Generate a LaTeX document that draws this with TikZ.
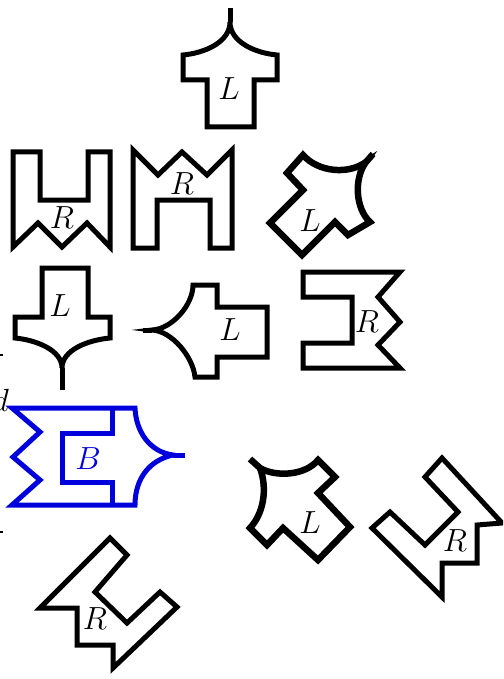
\RequirePackage{fix-cm}
\documentclass[tikz,border=0pt]{standalone}
\definecolor{pieceblue}{RGB}{0,0,220}
\tikzset{
  piece/.style={line width=5pt},
  heavypiece/.style={line width=6.5pt},
  lbl/.style={font=\fontsize{32}{38}\selectfont, inner sep=0pt}
}
\begin{document}
\begin{tikzpicture}[x=1pt, y=-1pt]
    \useasboundingbox (0,0) rectangle (503,679);
    \clip (0,0) rectangle (503,679);

    % cut-off marks on the left edge
    \draw[line width=1.5pt] (-10,355) -- (3,355);
    \draw[line width=1.5pt] (-10,532) -- (3,532);
    \node[lbl, anchor=base east] (dmark) at (9,411) {$d$};

    % top piece
    \draw[piece] (183,55) -- (183,80) -- (207,80) -- (207,127) -- (254,127) -- (254,80)
        -- (277,80) -- (277,55) .. controls (255,53) and (230,42) .. (230,22)
        .. controls (230,42) and (205,53) .. (183,55) -- cycle;
    \draw[piece] (230,22) -- (230,8);
    \node[lbl] (top) at (229,89) {$L$};

    % second row
    \draw[piece] (13,152) -- (40,152) -- (40,200) -- (88,200) -- (88,152) -- (110,152)
        -- (110,247) -- (87,223) -- (62,247) -- (38,223) -- (13,247) -- cycle;
    \node[lbl] (wpiece) at (62,218) {$R$};

    \draw[piece] (133,150) -- (158,175) -- (182,152) -- (207,175) -- (232,150) -- (232,248)
        -- (210,248) -- (210,200) -- (157,200) -- (157,248) -- (133,248) -- cycle;
    \node[lbl] (mpiece) at (182,184) {$R$};

    \draw[heavypiece] (303,155) -- (287,173) -- (303,190) -- (270,223) -- (302,255)
        -- (335,222) -- (348,235) -- (370,222) .. controls (355,208) and (354,178) .. (366,162)
        .. controls (348,175) and (318,172) .. (303,155) -- cycle;
    \draw[heavypiece] (366,162) -- (373,154);
    \node[lbl] (tilted) at (310,221) {$L$};

    % third row
    \draw[piece] (42,268) -- (88,268) -- (88,317) -- (110,317) -- (110,338)
        .. controls (88,340) and (62,350) .. (62,368)
        .. controls (62,350) and (36,340) .. (15,338) -- (15,317) -- (42,317) -- cycle;
    \draw[piece] (62,368) -- (62,390);
    \node[lbl] (down) at (60,306) {$L$};

    \draw[piece] (193,285) -- (217,285) -- (217,307) -- (267,307) -- (267,357) -- (217,357)
        -- (217,377) -- (195,377) .. controls (193,357) and (172,331) .. (152,330)
        .. controls (172,329) and (193,305) .. (193,285) -- cycle;
    \draw[piece] (152,330) -- (143,330);
    \node[lbl] (left) at (230,330) {$L$};

    \draw[piece] (303,272) -- (400,272) -- (378,297) -- (400,322) -- (378,345) -- (400,368)
        -- (303,368) -- (303,343) -- (352,343) -- (352,297) -- (303,297) -- cycle;
    \node[lbl] (epiece) at (367,322) {$R$};

    % blue piece
    \begin{scope}[pieceblue]
        \draw[piece] (12,408) -- (135,408) .. controls (136,432) and (150,452) .. (173,455)
            .. controls (150,460) and (135,478) .. (135,505) -- (12,505) -- (40,480)
            -- (13,457) -- (40,432) -- cycle;
        \draw[piece] (173,455) -- (185,455);
        \draw[piece] (112,408) -- (112,433) -- (62,433) -- (62,482) -- (112,482) -- (112,505);
        \node[lbl] (both) at (88,459) {$B$};
    \end{scope}

    % lower right
    \draw[heavypiece] (260,468) .. controls (275,477) and (305,476) .. (318,460) -- (335,477)
        -- (318,493) -- (350,527) -- (318,560) -- (283,528) -- (267,545) -- (250,528)
        .. controls (263,514) and (268,490) .. (260,468) -- cycle;
    \draw[heavypiece] (260,468) -- (250,459);
    \node[lbl] (tiltedb) at (310,523) {$L$};

    \draw[piece] (442,458) -- (502,523) -- (477,525) -- (477,563) -- (442,563) -- (442,597)
        -- (372,528) -- (390,512) -- (425,545) -- (458,512) -- (425,477) -- cycle;
    \node[lbl] (slantr) at (455,541) {$R$};

    % bottom
    \draw[piece] (110,538) -- (127,555) -- (95,592) -- (127,623) -- (160,592) -- (177,607)
        -- (113,668) -- (113,645) -- (77,645) -- (77,608) -- (40,608) -- cycle;
    \node[lbl] (slantl) at (95,619) {$R$};
\end{tikzpicture}
\end{document}
